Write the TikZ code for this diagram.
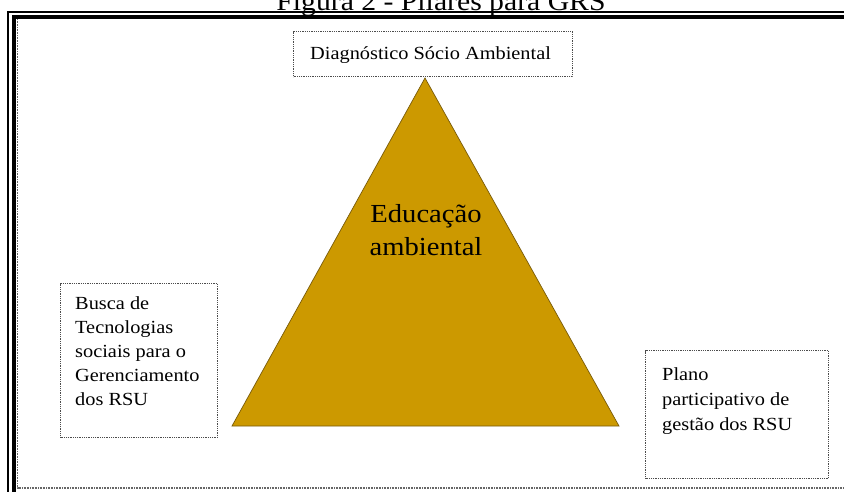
\documentclass[tikz,border=0pt]{standalone}
\usepackage{fontspec}
\setmainfont{Liberation Serif}[FakeStretch=1.1]
\begin{document}
\begin{tikzpicture}[x=1pt,y=-1pt,
  dotbox/.style={draw=black!70, line width=1pt, dash pattern=on 1pt off 0.8pt, inner sep=0pt, anchor=north west},
  boxtext/.style={anchor=north west, align=left, inner sep=0pt, font=\fontsize{18.5}{24}\selectfont},
  framethin/.style={line width=1.6pt},
  framethick/.style={line width=3.2pt},
  frameDot/.style={draw=black!60, line width=1.2pt, dash pattern=on 0.8pt off 0.8pt}]
\useasboundingbox (0,0) rectangle (844,491);
% title (cut by the page edge)
\node[anchor=base, inner sep=0pt, font=\fontsize{27}{30}\selectfont] (title) at (441,10) {Figura 2 - Pilares para GRS};
% frame
\draw[framethin] (8,500) -- (8,12) -- (850,12);
\draw[framethick] (14,500) -- (14,17) -- (850,17);
\draw[frameDot] (17.5,19) -- (17.5,488) -- (850,488);
% triangle
\coordinate (apex) at (425,78);
\coordinate (bl) at (232,426);
\coordinate (br) at (619,426);
\fill[fill={rgb,255:red,204;green,153;blue,0}, draw={rgb,255:red,120;green,90;blue,10}, line width=0.7pt, line join=miter] (apex) -- (bl) -- (br) -- cycle;
\node[align=center, inner sep=0pt, anchor=base, font=\fontsize{26}{33}\selectfont] (edu) at (426,255) {Educação\\ambiental};
% boxes
\node[dotbox, minimum width=279pt, minimum height=45pt] (tbox) at (293,31) {};
\node[anchor=base west, inner sep=0pt, font=\fontsize{18.5}{22}\selectfont] (ttext) at (310,59) {Diagnóstico Sócio Ambiental};
\node[dotbox, minimum width=157pt, minimum height=154pt] (lbox) at (60,283) {};
\node[boxtext] (ltext) at (75,296) {Busca de\\Tecnologias\\sociais para o\\Gerenciamento\\dos RSU};
\node[dotbox, minimum width=183pt, minimum height=128pt] (rbox) at (645,350) {};
\node[boxtext, font=\fontsize{18.5}{25}\selectfont] (rtext) at (662,367) {Plano\\participativo de\\gestão dos RSU};
\end{tikzpicture}
\end{document}
